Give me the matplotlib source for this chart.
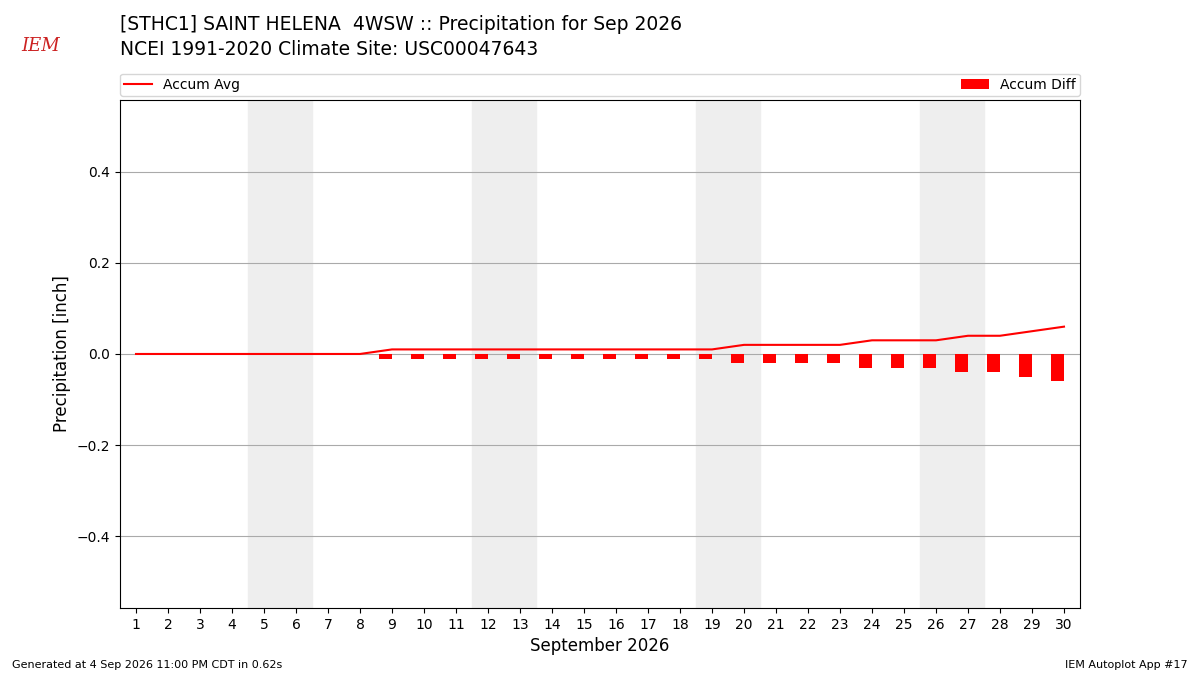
import matplotlib
matplotlib.use("Agg")
import matplotlib.pyplot as plt
import numpy as np

days = list(range(1, 31))
accum_avg = [0,0,0,0,0,0,0,0,0.01,0.01,0.01,0.01,0.01,0.01,0.01,0.01,0.01,0.01,0.01,
             0.02,0.02,0.02,0.02,0.03,0.03,0.03,0.04,0.04,0.05,0.06]
accum_obs = [0]*30
accum_diff = [o - a for o, a in zip(accum_obs, accum_avg)]
weekends = [5, 12, 19, 26]

fig = plt.figure(figsize=(12, 6.75), dpi=100)
ax = fig.add_axes([0.1, 0.0993, 0.8, 0.7526])
for w in weekends:
    ax.axvspan(w - 0.5, w + 1.5, color="#eeeeee", zorder=0)
ax.bar(days, accum_diff, width=-0.4, align="edge", color="red", label="Accum Diff", zorder=3)
ax.plot(days, accum_avg, color="red", lw=1.5, label="Accum Avg", zorder=4)
ax.set_xlim(0.5, 30.5)
ax.set_ylim(-0.558, 0.558)
ax.set_xticks(days)
ax.set_yticks([-0.4, -0.2, 0, 0.2, 0.4])
ax.grid(axis="y", color="#aaaaaa", lw=0.8, zorder=1)
ax.set_axisbelow(True)
ax.set_ylabel("Precipitation [inch]", fontsize=12)
ax.set_xlabel("September 2026", fontsize=12)
ax.legend(loc="lower left", bbox_to_anchor=(0, 1.008, 1, 0.05), mode="expand", ncol=2,
          borderaxespad=0, fontsize=10, borderpad=0.3)
fig.text(0.1, 0.955, "[STHC1] SAINT HELENA  4WSW :: Precipitation for Sep 2026", fontsize=13.5)
fig.text(0.1, 0.918, "NCEI 1991-2020 Climate Site: USC00047643", fontsize=13.5)
fig.text(0.018, 0.925, "IEM", fontsize=13, color="#cc2222", style="italic", family="DejaVu Serif")
fig.text(0.01, 0.01, "Generated at 4 Sep 2026 11:00 PM CDT in 0.62s", fontsize=8)
fig.text(0.99, 0.01, "IEM Autoplot App #17", fontsize=8, ha="right")
fig.savefig("out.png", dpi=100)
